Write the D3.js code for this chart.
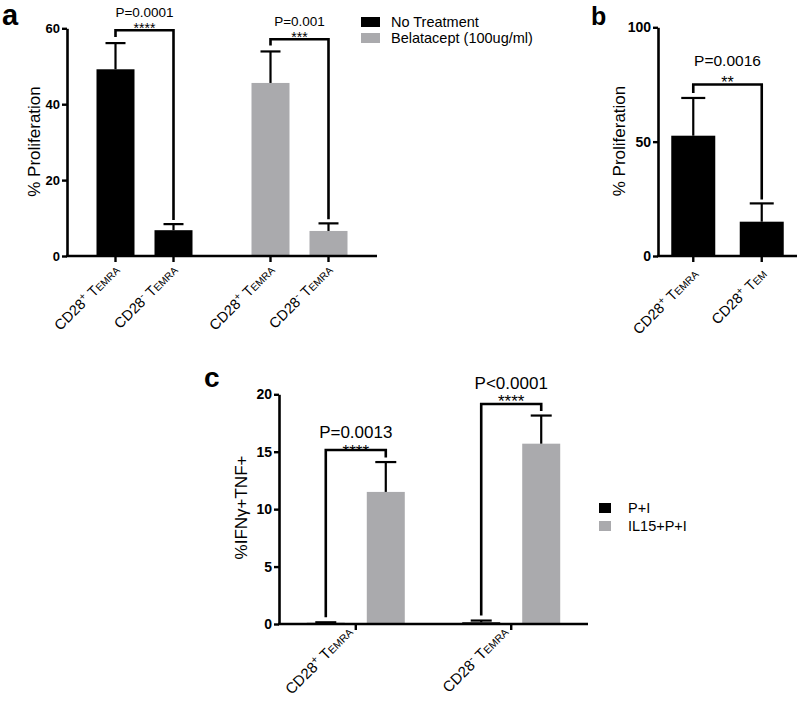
<!DOCTYPE html>
<html>
<head>
<meta charset="utf-8">
<script src="https://cdn.jsdelivr.net/npm/d3@7"></script>
<style>
  html, body { margin: 0; padding: 0; background: #fff; }
  svg { display: block; }
  text { font-family: 'Liberation Sans', Arial, Helvetica, sans-serif; fill: #000; }
</style>
</head>
<body>
<svg id="chart" width="800" height="701"></svg>
<script>
// ---------------- DATA ----------------
// Panel a
const aGroups = ['No Treatment', 'Belatacept (100ug/ml)'];
const aSubsets = ['CD28+ TEMRA', 'CD28- TEMRA'];
const aValues = [[49.2, 6.8], [45.6, 6.6]];
const aErrors = [[6.9, 1.6], [8.3, 2.0]];
const aYTicks = [0, 20, 40, 60];
const aPvals = ['P=0.0001', 'P=0.001'];
const aStars = ['****', '***'];
const aBracketLevels = [59.5, 57.1];

// Panel b
const bCategories = ['CD28+ TEMRA', 'CD28+ TEM'];
const bValues = [52.6, 15.0];
const bErrors = [16.5, 8.0];
const bYTicks = [0, 50, 100];
const bPval = 'P=0.0016';
const bStars = '**';
const bBracketLevel = 75;

// Panel c
const cGroups = ['CD28+ TEMRA', 'CD28- TEMRA'];
const cSeries = ['P+I', 'IL15+P+I'];
const cValues = [[0.1, 0.15], [11.5, 15.7]];   // per series, per group
const cErrors = [[0.05, 0.15], [2.6, 2.45]];
const cYTicks = [0, 5, 10, 15, 20];
const cPvals = ['P=0.0013', 'P<0.0001'];
const cStars = ['****', '****'];
const cBracketLevels = [15.15, 19.15];

const colors = ['#000000', '#aaaaad'];

// ---------------- HELPERS ----------------
const svg = d3.select('#chart');

function styleAxis(g, fs) {
  g.selectAll('path.domain').attr('stroke', '#000').attr('stroke-width', 2.6);
  g.selectAll('.tick line').attr('stroke', '#000').attr('stroke-width', 2.4);
  g.selectAll('.tick text').attr('font-size', fs).attr('font-weight', 'bold')
    .attr('font-family', "'Liberation Sans', Arial, sans-serif").attr('fill', '#000');
}

function drawXAxis(g, x0, x1, y0, ticks, len) {
  g.append('line').attr('x1', x0 - 1).attr('x2', x1).attr('y1', y0).attr('y2', y0)
    .attr('stroke', '#000').attr('stroke-width', 2.6);
  g.selectAll(null).data(ticks).enter().append('line')
    .attr('x1', d => d).attr('x2', d => d).attr('y1', y0).attr('y2', y0 + len)
    .attr('stroke', '#000').attr('stroke-width', 2.4);
}

function xLabel(g, x, y, label, fs) {
  const m = label.match(/^(CD28)([+-]) T(.*)$/);
  const t = g.append('text')
    .attr('transform', `translate(${x},${y}) rotate(-45)`)
    .attr('text-anchor', 'end')
    .attr('font-size', fs);
  t.append('tspan').text(m[1]);
  t.append('tspan').attr('dy', -fs * 0.38).attr('font-size', fs * 0.7)
    .text(m[2] === '+' ? '+' : '-');
  t.append('tspan').attr('dy', fs * 0.38).text('\u00a0T');
  t.append('tspan').attr('font-size', fs * 0.7).text(m[3]);
}

function drawBar(g, cx, y, v, e, w, color, capW) {
  g.append('rect').attr('x', cx - w / 2).attr('width', w)
    .attr('y', y(v)).attr('height', y(0) - y(v)).attr('fill', color);
  g.append('line').attr('x1', cx).attr('x2', cx).attr('y1', y(v)).attr('y2', y(v + e))
    .attr('stroke', '#000').attr('stroke-width', 2.2);
  g.append('line').attr('x1', cx - capW / 2).attr('x2', cx + capW / 2)
    .attr('y1', y(v + e)).attr('y2', y(v + e))
    .attr('stroke', '#000').attr('stroke-width', 2.2);
}

function bracket(g, x1, x2, yTop, y1end, y2end, ptxt, stars, pfs, pOff, sfs, sOff) {
  g.append('path')
    .attr('d', `M${x1},${y1end}V${yTop}H${x2}V${y2end}`)
    .attr('fill', 'none').attr('stroke', '#000').attr('stroke-width', 2.6);
  const cx = (x1 + x2) / 2;
  g.append('text').attr('x', cx).attr('y', yTop - pOff).attr('text-anchor', 'middle')
    .attr('font-size', pfs).text(ptxt);
  g.append('text').attr('x', cx).attr('y', yTop - sOff + 0.6 * sfs).attr('text-anchor', 'middle')
    .attr('font-size', sfs).text(stars);
}

function panelLetter(x, y, s, fs) {
  svg.append('text').attr('x', x).attr('y', y).attr('font-size', fs)
    .attr('font-weight', 'bold').text(s);
}

function yTitle(x, y, s, fs) {
  svg.append('text').attr('transform', `translate(${x},${y}) rotate(-90)`)
    .attr('text-anchor', 'middle').attr('font-size', fs).text(s);
}

// ---------------- PANEL A ----------------
{
  const g = svg.append('g');
  const y = d3.scaleLinear().domain([0, 60]).range([256, 28.3]);
  const xg = d3.scalePoint().domain(aGroups).range([67, 377]).padding(0.5);
  const xi = d3.scalePoint().domain(aSubsets).range([-29, 29]);
  const barW = 38;

  const centers = [];
  aGroups.forEach((grp, gi) => {
    aSubsets.forEach((sub, si) => {
      const cx = xg(grp) + xi(sub);
      centers.push(cx);
      drawBar(g, cx, y, aValues[gi][si], aErrors[gi][si], barW, colors[gi], 20);
    });
  });

  const ya = g.append('g').attr('transform', 'translate(67,0)')
    .call(d3.axisLeft(y).tickValues(aYTicks).tickSize(5).tickSizeOuter(0).tickPadding(2));
  styleAxis(ya, 13);
  drawXAxis(g, 67, 377, y(0), centers, 6);

  aGroups.forEach((grp, gi) => {
    aSubsets.forEach((sub, si) => {
      xLabel(g, centers[gi * 2 + si] + 5, 271, sub, 14.5);
    });
  });

  aGroups.forEach((grp, gi) => {
    const c1 = centers[gi * 2], c2 = centers[gi * 2 + 1];
    const t1 = y(aValues[gi][0] + aErrors[gi][0]) - 6;
    const t2 = y(aValues[gi][1] + aErrors[gi][1]) - 4;
    bracket(g, c1, c2, y(aBracketLevels[gi]), t1, t2, aPvals[gi], aStars[gi], 13.5, 13, 14, 5.7);
  });

  // legend
  const lg = svg.append('g');
  aGroups.forEach((grp, gi) => {
    lg.append('rect').attr('x', 361).attr('y', 17 + gi * 16).attr('width', 19).attr('height', 10)
      .attr('fill', colors[gi]);
    lg.append('text').attr('x', 391).attr('y', 27 + gi * 15.5).attr('font-size', 14.5).text(grp);
  });

  panelLetter(2, 25, 'a', 29);
  yTitle(40, 141.5, '% Proliferation', 17);
}

// ---------------- PANEL B ----------------
{
  const g = svg.append('g');
  const y = d3.scaleLinear().domain([0, 100]).range([256, 27.3]);
  const x = d3.scalePoint().domain(bCategories).range([658, 797]).padding(0.515);
  const centers = bCategories.map(c => x(c));
  bCategories.forEach((c, i) => drawBar(g, x(c), y, bValues[i], bErrors[i], 44, colors[0], 24));

  const ya = g.append('g').attr('transform', 'translate(658,0)')
    .call(d3.axisLeft(y).tickValues(bYTicks).tickSize(5).tickSizeOuter(0).tickPadding(2));
  styleAxis(ya, 14);
  drawXAxis(g, 658, 797, y(0), centers, 6);
  bCategories.forEach((c, i) => xLabel(g, centers[i] + 6, 275, c, 14.5));

  bracket(g, centers[0], centers[1], y(bBracketLevel),
    y(bValues[0] + bErrors[0]) - 5, y(bValues[1] + bErrors[1]) - 4,
    bPval, bStars, 15.5, 18, 16, 6.4);

  panelLetter(591, 25, 'b', 25);
  yTitle(625, 141, '% Proliferation', 17);
}

// ---------------- PANEL C ----------------
{
  const g = svg.append('g');
  const y = d3.scaleLinear().domain([0, 20]).range([624, 394.3]);
  const xg = d3.scalePoint().domain(cGroups).range([279, 588]).padding(0.494);
  const xi = d3.scalePoint().domain(cSeries).range([-30, 30]);
  const barW = 38;

  cGroups.forEach((grp, gi) => {
    cSeries.forEach((s, si) => {
      drawBar(g, xg(grp) + xi(s), y, cValues[si][gi], cErrors[si][gi], barW, colors[si], 21);
    });
  });

  const ya = g.append('g').attr('transform', 'translate(279,0)')
    .call(d3.axisLeft(y).tickValues(cYTicks).tickSize(5).tickSizeOuter(0).tickPadding(2));
  styleAxis(ya, 14);
  drawXAxis(g, 279, 588, y(0), cGroups.map(d => xg(d)), 6);
  cGroups.forEach(grp => xLabel(g, xg(grp) - 2, 633, grp, 15));

  cGroups.forEach((grp, gi) => {
    const c1 = xg(grp) + xi(cSeries[0]), c2 = xg(grp) + xi(cSeries[1]);
    bracket(g, c1, c2, y(cBracketLevels[gi]),
      y(cValues[0][gi] + cErrors[0][gi]) - 5, y(cValues[1][gi] + cErrors[1][gi]) - 4.5,
      cPvals[gi], cStars[gi], 17, 12 + gi * 3.5, 17, 3.5 + gi * 4);
  });

  // legend
  cSeries.forEach((s, si) => {
    svg.append('rect').attr('x', 599).attr('y', 503 + si * 18).attr('width', 12).attr('height', 10)
      .attr('fill', colors[si]);
    svg.append('text').attr('x', 628).attr('y', 513 + si * 18).attr('font-size', 14.5).text(s);
  });

  panelLetter(204, 387, 'c', 28);
  yTitle(247, 507.5, '%IFN\u03b3+TNF+', 17);
}
</script>
</body>
</html>
